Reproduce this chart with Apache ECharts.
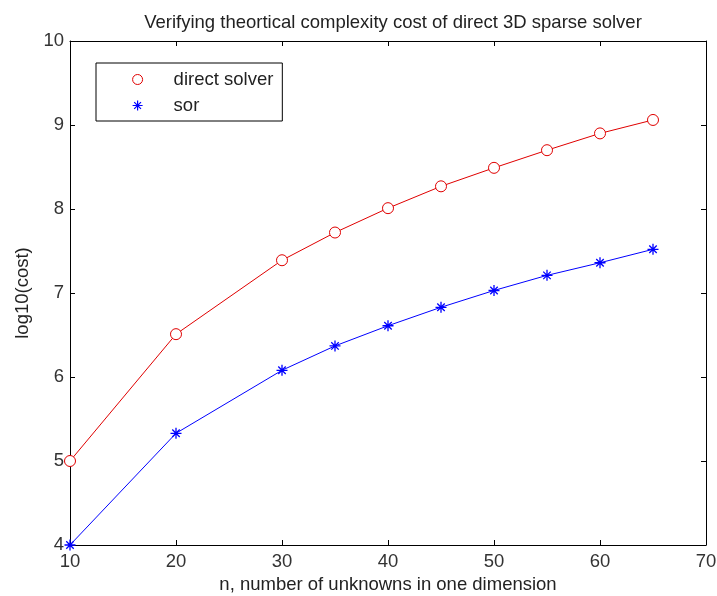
<!DOCTYPE html>
<html>
<head>
<meta charset="utf-8">
<script src="https://cdn.jsdelivr.net/npm/echarts@6/dist/echarts.min.js"></script>
<style>
  html, body { margin: 0; padding: 0; background: #fff; }
</style>
</head>
<body>
<div id="chart" style="width: 717px; height: 596px;"></div>
<script>
  // n values (unknowns in one dimension)
  const nValues = [10, 20, 30, 35, 40, 45, 50, 55, 60, 65];
  // log10(cost)
  const directSolver = [5.0, 6.51, 7.39, 7.72, 8.01, 8.27, 8.49, 8.70, 8.90, 9.06];
  const sorSolver = [4.0, 5.33, 6.08, 6.37, 6.61, 6.83, 7.03, 7.21, 7.36, 7.52];

  const xTicks = [10, 20, 30, 40, 50, 60, 70];
  const yTicks = [4, 5, 6, 7, 8, 9, 10];

  const asterisk = 'path://M0,5L10,5M5,0L5,10M1.6,1.6L8.4,8.4M8.4,1.6L1.6,8.4';
  const font = 'Arial, "Liberation Sans", sans-serif';
  const fs = 18.5;

  let chart = echarts.init(document.getElementById('chart'));

  const pairs = (ys) => nValues.map((n, i) => [n, ys[i]]);

  const tickStyle = { show: true, inside: true, length: 5, lineStyle: { color: '#000' } };
  const lineStyleAxis = { show: true, onZero: false, lineStyle: { color: '#000', width: 1 } };

  let option = {
    backgroundColor: '#fff',
    animation: false,
    title: {
      text: 'Verifying theortical complexity cost of direct 3D sparse solver',
      left: 388,
      top: 8,
      textAlign: 'center',
      textStyle: { fontFamily: font, fontSize: fs, fontWeight: 'normal', color: '#222' }
    },
    legend: {
      orient: 'vertical',
      left: 96,
      top: 63,
      padding: [7, 9, 6, 36],
      itemGap: 7,
      itemWidth: 10,
      itemHeight: 10,
      borderColor: '#000',
      borderWidth: 1,
      backgroundColor: '#fff',
      textStyle: { fontFamily: font, fontSize: fs, color: '#222', padding: [0, 0, 0, 26] },
      data: [
        {
          name: 'direct solver',
          icon: 'circle',
          itemStyle: { color: '#fff', borderColor: '#e00000', borderWidth: 1 }
        },
        {
          name: 'sor',
          icon: asterisk,
          itemStyle: { color: '#0000ff', borderColor: '#0000ff', borderWidth: 1.2 }
        }
      ]
    },
    grid: { left: 70, right: 11, top: 41, bottom: 51, outerBoundsMode: 'none', containLabel: false },
    xAxis: [
      {
        type: 'value',
        min: 10,
        max: 70,
        interval: 10,
        name: 'n, number of unknowns in one dimension',
        nameLocation: 'middle',
        nameGap: 27,
        nameTextStyle: { fontFamily: font, fontSize: fs, color: '#222' },
        axisLine: lineStyleAxis,
        axisTick: tickStyle,
        splitLine: { show: false },
        axisLabel: {
          fontFamily: font, fontSize: fs, color: '#333', margin: 7,
          formatter: (v) => xTicks.includes(v) ? String(v) : ''
        }
      },
      {
        type: 'value',
        position: 'top',
        min: 10,
        max: 70,
        interval: 10,
        axisLine: lineStyleAxis,
        axisTick: tickStyle,
        splitLine: { show: false },
        axisLabel: { show: false }
      }
    ],
    yAxis: [
      {
        type: 'value',
        min: 4,
        max: 10,
        interval: 1,
        name: 'log10(cost)',
        nameLocation: 'middle',
        nameGap: 36,
        nameTextStyle: { fontFamily: font, fontSize: fs, color: '#222' },
        axisLine: lineStyleAxis,
        axisTick: tickStyle,
        splitLine: { show: false },
        axisLabel: {
          fontFamily: font, fontSize: fs, color: '#333', margin: 6,
          formatter: (v) => yTicks.includes(v) ? String(v) : ''
        }
      },
      {
        type: 'value',
        position: 'right',
        min: 4,
        max: 10,
        interval: 1,
        axisLine: lineStyleAxis,
        axisTick: tickStyle,
        splitLine: { show: false },
        axisLabel: { show: false }
      }
    ],
    series: [
      {
        name: 'direct solver',
        type: 'line',
        data: pairs(directSolver),
        symbol: 'circle',
        symbolSize: 11,
        showAllSymbol: true,
        lineStyle: { color: '#e00000', width: 1 },
        itemStyle: { color: '#fff', borderColor: '#e00000', borderWidth: 1 }
      },
      {
        name: 'sor',
        type: 'line',
        data: pairs(sorSolver),
        symbol: asterisk,
        symbolSize: 11,
        showAllSymbol: true,
        lineStyle: { color: '#0000ff', width: 1 },
        itemStyle: { color: '#0000ff', borderColor: '#0000ff', borderWidth: 1.3 }
      }
    ]
  };

  chart.setOption(option);
</script>
</body>
</html>
